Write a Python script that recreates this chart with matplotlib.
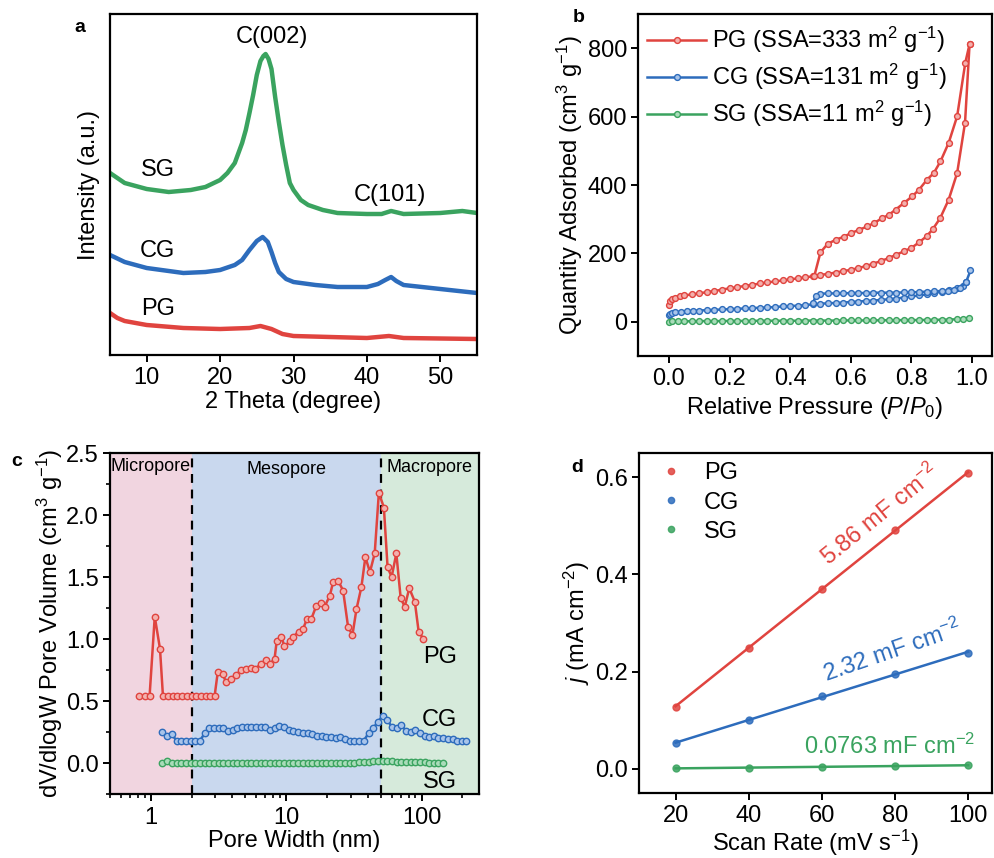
import numpy as np
import matplotlib
matplotlib.use("Agg")
import matplotlib.pyplot as plt
from matplotlib.ticker import MultipleLocator, LogLocator, NullFormatter

plt.rcParams['font.family'] = ['Liberation Sans', 'DejaVu Sans']
plt.rcParams['mathtext.fontset'] = 'custom'
plt.rcParams['mathtext.rm'] = 'Liberation Sans'
plt.rcParams['mathtext.it'] = 'Liberation Sans:italic'
plt.rcParams['font.size'] = 17
plt.rcParams['axes.linewidth'] = 1.6
plt.rcParams['xtick.major.width'] = 1.4
plt.rcParams['ytick.major.width'] = 1.4
plt.rcParams['xtick.major.size'] = 5
plt.rcParams['ytick.major.size'] = 5
plt.rcParams['xtick.major.pad'] = 4
plt.rcParams['ytick.major.pad'] = 3

RED = '#e0443f'
BLUE = '#2d6cbc'
GREEN = '#3aa35f'
RED_L = '#f3b0ad'
BLUE_L = '#a8c4ea'
GREEN_L = '#a9dcb9'

# ---- (a) XRD ----
xrd_sg_x = [5, 7, 10, 13, 16, 18, 20, 21, 22, 23, 23.5, 24, 24.5, 25, 25.5, 25.9, 26.2, 26.6, 27,
            27.5, 28, 28.5, 29, 29.5, 30, 31, 32, 34, 36, 40, 42, 43.3, 45, 50, 53, 55]
xrd_sg_y = [182, 172, 166, 163, 165, 168, 175, 182, 192, 212, 225, 242, 260, 280, 294, 299, 301,
            296, 286, 258, 233, 210, 190, 172, 165, 155, 150, 145, 142, 141, 141, 144, 141, 142,
            144, 142]
xrd_cg_x = [5, 7, 10, 15, 18, 20, 22, 23, 24, 25, 25.8, 26.5, 27, 27.5, 28, 29, 30, 33, 36, 40,
            41.5, 42.5, 43.3, 44, 45, 50, 55]
xrd_cg_y = [100, 93, 87, 82, 83, 85, 90, 95, 105, 114, 118, 113, 103, 92, 83, 76, 73, 70, 68, 68,
            71, 75, 78, 74, 70, 66, 62]
xrd_pg_x = [5, 6, 7, 10, 15, 20, 24, 25.5, 27, 28.5, 30, 35, 40, 43, 45, 55]
xrd_pg_y = [42, 37, 34, 30, 27, 26, 27, 29, 26, 21, 19, 18, 17, 19, 17, 16]

# ---- (b) N2 isotherms ----
pg_ads_p = [0.001, 0.005, 0.01, 0.02, 0.035, 0.05, 0.075, 0.1, 0.125, 0.15, 0.175, 0.2, 0.225,
            0.25, 0.275, 0.3, 0.325, 0.35, 0.375, 0.4, 0.425, 0.45, 0.475, 0.5, 0.525, 0.55,
            0.575, 0.6, 0.625, 0.65, 0.675, 0.7, 0.725, 0.75, 0.775, 0.8, 0.825, 0.85, 0.87,
            0.895, 0.923, 0.951, 0.977, 0.992]
pg_ads_q = [49, 62, 67, 71, 74, 77, 80, 83, 87, 90, 94, 98, 101, 105, 108, 112, 115, 118, 121,
            124, 127, 130, 133, 137, 140, 144, 148, 152, 157, 163, 170, 178, 186, 196, 206, 216,
            232, 250, 270, 303, 357, 435, 582, 812]
pg_des_p = [0.992, 0.978, 0.951, 0.923, 0.896, 0.874, 0.852, 0.825, 0.803, 0.775, 0.748, 0.726,
            0.704, 0.677, 0.655, 0.628, 0.6, 0.578, 0.551, 0.524, 0.5, 0.48]
pg_des_q = [812, 758, 601, 523, 469, 435, 416, 386, 367, 347, 328, 313, 303, 289, 279, 269, 259,
            249, 240, 228, 203, 135]
cg_ads_p = [0.001, 0.005, 0.01, 0.02, 0.04, 0.06, 0.08, 0.1, 0.125, 0.15, 0.175, 0.2, 0.225, 0.25,
            0.275, 0.3, 0.325, 0.35, 0.375, 0.4, 0.425, 0.45, 0.475, 0.5, 0.525, 0.55, 0.575, 0.6,
            0.625, 0.65, 0.675, 0.7, 0.725, 0.75, 0.775, 0.8, 0.825, 0.85, 0.875, 0.9, 0.925,
            0.95, 0.97, 0.98, 0.995]
cg_ads_q = [21, 24, 26, 28, 30, 31, 32, 33, 34, 35, 36, 37, 38, 39, 40, 41, 42, 43, 45, 46, 47,
            49, 51, 53, 54, 55, 56, 58, 59, 61, 62, 64, 66, 68, 71, 74, 77, 80, 84, 88, 92, 98,
            106, 115, 150]
cg_des_p = [0.98, 0.96, 0.94, 0.92, 0.9, 0.875, 0.85, 0.825, 0.8, 0.775, 0.75, 0.725, 0.7, 0.675,
            0.65, 0.625, 0.6, 0.575, 0.55, 0.525, 0.5, 0.485, 0.475]
cg_des_q = [115, 100, 94, 91, 90, 89, 88, 87, 86, 86, 85, 85, 85, 85, 84, 84, 84, 83, 83, 83, 82,
            75, 55]
sg_ads_p = [0.001, 0.01, 0.03, 0.05, 0.075, 0.1, 0.125, 0.15, 0.175, 0.2, 0.225, 0.25, 0.275, 0.3,
            0.325, 0.35, 0.375, 0.4, 0.425, 0.45, 0.475, 0.5, 0.525, 0.55, 0.575, 0.6, 0.625,
            0.65, 0.675, 0.7, 0.725, 0.75, 0.775, 0.8, 0.825, 0.85, 0.875, 0.9, 0.925, 0.95,
            0.97, 0.99]
sg_ads_q = [0, 1, 1, 1.5, 1.5, 2, 2, 2, 2, 2.5, 2.5, 2.5, 2.5, 3, 3, 3, 3, 3, 3, 3.5, 3.5, 3.5,
            3.5, 3.5, 4, 4, 4, 4, 4, 4.5, 4.5, 4.5, 5, 5, 5, 5.5, 5.5, 6, 6.5, 7.5, 9, 12]

# ---- (c) pore size distribution ----
pg_w = [0.82, 0.90, 0.98, 1.07, 1.17, 1.23, 1.33, 1.45, 1.57, 1.70, 1.85, 2.0, 2.17, 2.35, 2.55,
        2.76, 2.96, 3.12, 3.39, 3.6, 3.9, 4.26, 4.64, 5.05, 5.5, 5.93, 6.5, 7.1, 7.6, 8.2, 8.5,
        9.2, 9.7, 10.6, 11.3, 12.4, 13.3, 14.2, 15.3, 16.7, 18.0, 19.2, 21.0, 22.2, 24.2, 26.3,
        28.6, 30.8, 33.0, 35.9, 38.4, 41.5, 45.0, 48.3, 52.6, 56, 60, 65, 70, 75, 81, 89, 95, 103]
pg_dv = [0.54, 0.54, 0.54, 1.18, 0.92, 0.54, 0.54, 0.54, 0.54, 0.54, 0.54, 0.54, 0.54, 0.54, 0.54,
         0.54, 0.54, 0.73, 0.72, 0.65, 0.68, 0.71, 0.75, 0.76, 0.77, 0.76, 0.80, 0.83, 0.80, 0.84,
         0.98, 1.02, 0.94, 0.98, 1.02, 1.06, 1.08, 1.16, 1.16, 1.27, 1.29, 1.26, 1.35, 1.46, 1.47,
         1.39, 1.10, 1.03, 1.24, 1.42, 1.66, 1.54, 1.69, 2.18, 2.06, 1.58, 1.50, 1.69, 1.33, 1.26,
         1.41, 1.30, 1.06, 1.00]
cg_w = [1.22, 1.32, 1.43, 1.55, 1.68, 1.82, 1.97, 2.13, 2.31, 2.50, 2.71, 2.93, 3.17, 3.43, 3.72,
        4.03, 4.36, 4.72, 5.11, 5.53, 5.99, 6.49, 7.03, 7.61, 8.24, 8.92, 9.66, 10.5, 11.3, 12.3,
        13.3, 14.4, 15.6, 16.9, 18.3, 19.8, 21.4, 23.2, 25.1, 27.2, 29.4, 31.9, 34.5, 37.4, 40.5,
        43.8, 47.4, 51.4, 55.6, 60.2, 65.2, 70.6, 76.4, 82.8, 89.6, 97.0, 105, 114, 123, 133, 144,
        156, 169, 183, 198, 214]
cg_dv = [0.25, 0.22, 0.23, 0.18, 0.18, 0.18, 0.18, 0.18, 0.18, 0.24, 0.28, 0.28, 0.28, 0.28, 0.26,
         0.27, 0.28, 0.29, 0.29, 0.29, 0.29, 0.29, 0.29, 0.27, 0.28, 0.30, 0.29, 0.27, 0.26, 0.25,
         0.24, 0.24, 0.23, 0.22, 0.22, 0.21, 0.21, 0.20, 0.21, 0.19, 0.18, 0.18, 0.18, 0.18, 0.24,
         0.28, 0.33, 0.38, 0.35, 0.29, 0.28, 0.31, 0.26, 0.25, 0.27, 0.24, 0.22, 0.21, 0.22, 0.20,
         0.20, 0.19, 0.19, 0.18, 0.18, 0.18]
sg_w = cg_w[:61]
sg_dv = [0.0, 0.02, 0.0, 0.0, 0.0, 0.0, 0.0, 0.0, 0.0, 0.0, 0.0, 0.0, 0.0, 0.0, 0.0, 0.0, 0.0,
         0.0, 0.0, 0.0, 0.0, 0.0, 0.0, 0.0, 0.0, 0.0, 0.0, 0.0, 0.0, 0.0, 0.0, 0.0, 0.0, 0.0, 0.0,
         0.0, 0.0, 0.0, 0.0, 0.0, 0.0, 0.0, 0.005, 0.01, 0.01, 0.015, 0.02, 0.02, 0.015, 0.015,
         0.01, 0.01, 0.01, 0.005, 0.005, 0.005, 0.005, 0.0, 0.0, 0.0, 0.0]

# ---- (d) double-layer capacitance ----
scan_rate = [20, 40, 60, 80, 100]
j_pg = [0.128, 0.249, 0.370, 0.492, 0.609]
j_cg = [0.052, 0.101, 0.149, 0.195, 0.239]
j_sg = [0.001, 0.002, 0.004, 0.005, 0.0075]
cdl_labels = ['5.86 mF cm$^{-2}$', '2.32 mF cm$^{-2}$', '0.0763 mF cm$^{-2}$']

W, H = 995, 858
fig = plt.figure(figsize=(W / 100, H / 100), dpi=100)


def box(l, r, t, b):
    return [l / W, 1 - b / H, (r - l) / W, (b - t) / H]


axa = fig.add_axes(box(110, 477, 14, 355))
axb = fig.add_axes(box(638, 992, 14, 356))
axc = fig.add_axes(box(110, 479, 453, 794))
axd = fig.add_axes(box(639, 992, 453, 793))

# (a)
axa.plot(xrd_sg_x, xrd_sg_y, color=GREEN, lw=3.2)
axa.plot(xrd_cg_x, xrd_cg_y, color=BLUE, lw=3.2)
axa.plot(xrd_pg_x, xrd_pg_y, color=RED, lw=3.2)
axa.set_xlim(5, 55)
axa.set_ylim(0, 341)
axa.set_yticks([])
axa.set_xticks([10, 20, 30, 40, 50])
axa.set_xlabel('2 Theta (degree)', labelpad=1)
axa.set_ylabel('Intensity (a.u.)', labelpad=7)
axa.text(11.5, 185, 'SG', ha='center', va='center')
axa.text(11.5, 104, 'CG', ha='center', va='center')
axa.text(11.5, 46, 'PG', ha='center', va='center')
axa.text(27.0, 318, 'C(002)', ha='center', va='center')
axa.text(43.1, 160, 'C(101)', ha='center', va='center')

# (b)
mk = dict(marker='o', ms=4.2, mew=1.0, lw=1.8)
axb.plot(pg_ads_p, pg_ads_q, color=RED, mfc=RED_L, mec=RED,
         label='PG (SSA=333 m$^{2}$ g$^{-1}$)', **mk)
axb.plot(pg_des_p, pg_des_q, color=RED, mfc=RED_L, mec=RED, **mk)
axb.plot(cg_ads_p, cg_ads_q, color=BLUE, mfc=BLUE_L, mec=BLUE,
         label='CG (SSA=131 m$^{2}$ g$^{-1}$)', **mk)
axb.plot(cg_des_p, cg_des_q, color=BLUE, mfc=BLUE_L, mec=BLUE, **mk)
axb.plot(sg_ads_p, sg_ads_q, color=GREEN, mfc=GREEN_L, mec=GREEN,
         label='SG (SSA=11 m$^{2}$ g$^{-1}$)', **mk)
axb.set_xlim(-0.102, 1.066)
axb.set_ylim(-100, 900)
axb.set_xticks([0.0, 0.2, 0.4, 0.6, 0.8, 1.0])
axb.set_yticks([0, 200, 400, 600, 800])
axb.set_xlabel('Relative Pressure ($P$/$P_{0}$)', labelpad=3)
axb.set_ylabel('Quantity Adsorbed (cm$^{3}$ g$^{-1}$)', labelpad=2)
axb.legend(loc='upper left', frameon=False, handlelength=2.5, handletextpad=0.25,
           labelspacing=0.28, borderaxespad=0.0, bbox_to_anchor=(0.0, 0.995))

# (c)
axc.axvspan(0.5, 2, color='#f1d5e0', lw=0)
axc.axvspan(2, 50, color='#c9d8ee', lw=0)
axc.axvspan(50, 265, color='#d6eadb', lw=0)
axc.axvline(2, color='black', ls=(0, (4, 3)), lw=1.6)
axc.axvline(50, color='black', ls=(0, (4, 3)), lw=1.6)
mc = dict(marker='o', ms=4.6, mew=1.0, lw=1.8)
axc.plot(pg_w, pg_dv, color=RED, mfc=RED_L, mec=RED, **mc)
axc.plot(cg_w, cg_dv, color=BLUE, mfc=BLUE_L, mec=BLUE, **mc)
axc.plot(sg_w, sg_dv, color=GREEN, mfc=GREEN_L, mec=GREEN, **mc)
axc.set_xscale('log')
axc.set_xlim(0.5, 265)
axc.set_ylim(-0.25, 2.5)
axc.set_xticks([1, 10, 100])
axc.set_xticklabels(['1', '10', '100'])
axc.xaxis.set_minor_locator(LogLocator(base=10, subs=np.arange(2, 10)))
axc.xaxis.set_minor_formatter(NullFormatter())
axc.yaxis.set_major_locator(MultipleLocator(0.5))
axc.yaxis.set_minor_locator(MultipleLocator(0.25))
axc.tick_params(which='minor', length=3, width=1.2)
axc.set_xlabel('Pore Width (nm)', labelpad=1)
axc.set_ylabel('dV/dlogW Pore Volume (cm$^{3}$ g$^{-1}$)', labelpad=1)
axc.text(1.0, 2.39, 'Micropore', ha='center', va='center', fontsize=13)
axc.text(10, 2.37, 'Mesopore', ha='center', va='center', fontsize=13)
axc.text(115, 2.38, 'Macropore', ha='center', va='center', fontsize=13,
         bbox=dict(facecolor='#d6eadb', edgecolor='none', pad=1))
axc.text(136, 0.855, 'PG', ha='center', va='center')
axc.text(136, 0.35, 'CG', ha='center', va='center')
axc.text(136, -0.15, 'SG', ha='center', va='center')

# (d)
for jv, col, lab in [(j_pg, RED, 'PG'), (j_cg, BLUE, 'CG'), (j_sg, GREEN, 'SG')]:
    k, b0 = np.polyfit(scan_rate, jv, 1)
    xs = np.array([scan_rate[0], scan_rate[-1]])
    axd.plot(xs, k * xs + b0, color=col, lw=1.8)
    axd.plot(scan_rate, jv, 'o', color=col, ms=5, mfc=col, mec=col, alpha=0.85, label=lab)
axd.set_xlim(10, 106.5)
axd.set_ylim(-0.05, 0.65)
axd.set_xticks([20, 40, 60, 80, 100])
axd.set_yticks([0.0, 0.2, 0.4, 0.6])
axd.set_xlabel('Scan Rate (mV s$^{-1}$)', labelpad=0)
axd.set_ylabel('$j$ (mA cm$^{-2}$)', labelpad=2)
axd.text(76, 0.523, cdl_labels[0], color=RED, rotation=39, ha='center', va='center',
         rotation_mode='anchor')
axd.text(79.2, 0.242, cdl_labels[1], color=BLUE, rotation=19, ha='center', va='center',
         rotation_mode='anchor')
axd.text(78.4, 0.046, cdl_labels[2], color=GREEN, ha='center', va='center')
axd.legend(loc='upper left', frameon=False, handlelength=1.0, handletextpad=0.9,
           labelspacing=0.3, borderaxespad=0.0, markerscale=0.9,
           bbox_to_anchor=(0.03, 1.0))

for ax in (axa, axb, axc, axd):
    ax.tick_params(direction='out')

fig.text(80 / W, 1 - 27 / H, 'a', fontsize=14, fontweight='bold', ha='center', va='center')
fig.text(579 / W, 1 - 18 / H, 'b', fontsize=14, fontweight='bold', ha='center', va='center')
fig.text(17 / W, 1 - 462 / H, 'c', fontsize=14, fontweight='bold', ha='center', va='center')
fig.text(577 / W, 1 - 467 / H, 'd', fontsize=14, fontweight='bold', ha='center', va='center')

fig.savefig('out.png', dpi=100)
